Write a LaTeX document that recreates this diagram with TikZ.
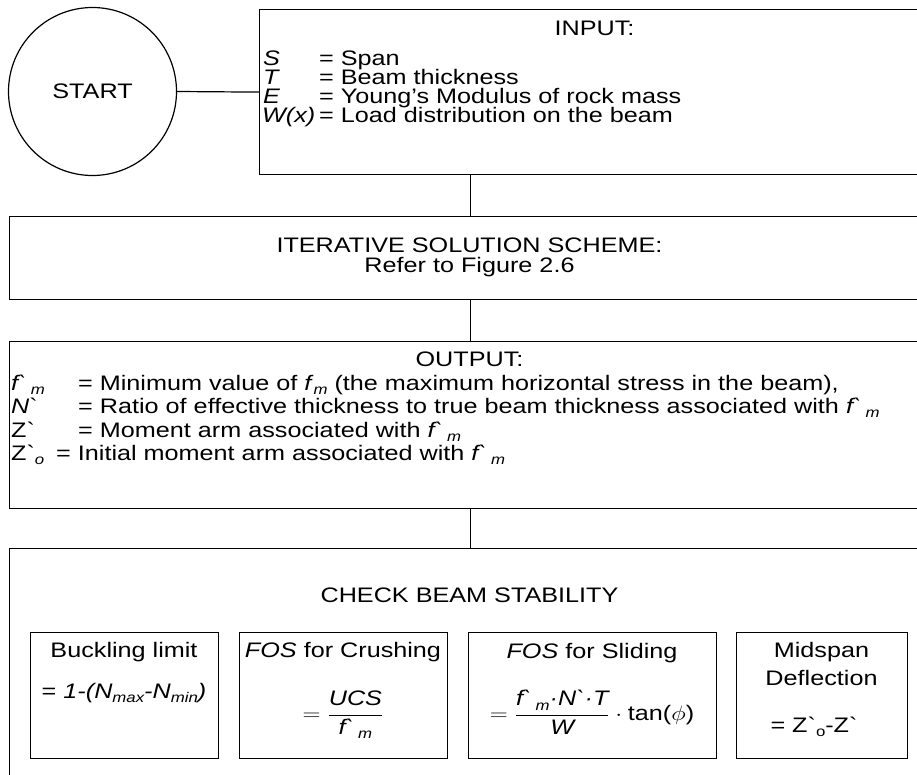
\documentclass[tikz,border=0pt]{standalone}
\usepackage{graphicx}
\usepackage{fontspec}
\setmainfont{Liberation Sans}
\newcommand{\gv}{\textasciigrave}
\newcommand{\fs}{\fontsize{21}{25}\selectfont}
\newcommand{\sx}[1]{\scalebox{1.2}[1]{#1}}
\newcommand{\sbs}[1]{\raisebox{-0.22em}{\fontsize{14}{14}\selectfont #1}}
\begin{document}
\begin{tikzpicture}[x=1pt,y=-1pt,
  box/.style={draw, line width=1.2pt, inner sep=0pt, anchor=north west},
  sbox/.style={draw, line width=1.1pt, inner sep=0pt, anchor=north west},
  tl/.style={inner sep=0pt, anchor=base west, font=\fs},
  tc/.style={inner sep=0pt, anchor=base, font=\fs}]
\useasboundingbox (0,0) rectangle (917,774);
\clip (0,0) rectangle (917,774);

% main boxes
\node[draw, circle, line width=1.2pt, minimum size=168pt, inner sep=0pt, font=\fs] (start) at (92.5,91.5) {\sx{START}};
\node[box, minimum width=671pt, minimum height=165pt] (in) at (259,9) {};
\node[box, minimum width=921pt, minimum height=83pt] (iter) at (9,216) {};
\node[box, minimum width=921pt, minimum height=167pt] (out) at (9,341) {};
\node[box, minimum width=921pt, minimum height=300pt] (check) at (9,548) {};

% connectors
\draw[line width=1.2pt] (start.east) -- (in.west);
\draw[line width=1.2pt] (iter.north |- in.south) -- (iter.north);
\draw[line width=1.2pt] (iter.south) -- (out.north);
\draw[line width=1.2pt] (out.south) -- (check.north);

% input text
\node[tc] (tin) at (594.5,35) {\sx{INPUT:}};
\node[tl] (vs) at (263,65) {\sx{\textit{S}}};
\node[tl] (vt) at (263,84) {\sx{\textit{T}}};
\node[tl] (ve) at (263,103) {\sx{\textit{E}}};
\node[tl] (vw) at (262,122) {\sx{\textit{W(x)}}};
\node[tl] (ds) at (319,65) {\sx{= Span}};
\node[tl] (dt) at (319,84) {\sx{= Beam thickness}};
\node[tl] (de) at (319,103) {\sx{= Young’s Modulus of rock mass}};
\node[tl] (dw) at (319,122) {\sx{= Load distribution on the beam}};

% iterative text
\node[tc] (titer) at (469.5,252) {\sx{ITERATIVE SOLUTION SCHEME:}};
\node[tc] (tref) at (469.5,272) {\sx{Refer to Figure 2.6}};

% output text
\node[tc] (tout) at (469.5,366) {\sx{OUTPUT:}};
\node[tl] (vf) at (11,390) {\sx{\textit{f\gv}\,\sbs{\textit{m}}}};
\node[tl] (vn) at (11,413) {\sx{\textit{N}\gv}};
\node[tl] (vz) at (11,437) {\sx{Z\gv}};
\node[tl] (df) at (78,390) {\sx{= Minimum value of \textit{f}\sbs{\textit{m}} (the maximum horizontal stress in the beam),}};
\node[tl] (dn) at (78,413) {\sx{= Ratio of effective thickness to true beam thickness associated with \textit{f\gv}\,\sbs{\textit{m}}}};
\node[tl] (dz) at (78,437) {\sx{= Moment arm associated with \textit{f\gv}\,\sbs{\textit{m}}}};
\node[tl] (vzo) at (11,460) {\sx{Z\gv\sbs{\textit{o}}}};
\node[tl] (dzo) at (56,460) {\sx{= Initial moment arm associated with \textit{f\gv}\,\sbs{\textit{m}}}};

% check box
\node[tc] (tcheck) at (469.5,602) {\sx{CHECK BEAM STABILITY}};
\node[sbox, minimum width=188pt, minimum height=126pt] (b1) at (30,632) {};
\node[sbox, minimum width=208pt, minimum height=126pt] (b2) at (239,632) {};
\node[sbox, minimum width=248pt, minimum height=126pt] (b3) at (468,632) {};
\node[sbox, minimum width=171pt, minimum height=126pt] (b4) at (736,632) {};

\node[tc] (t1) at (124,657) {\sx{Buckling limit}};
\node[tc] (f1) at (124,698) {\sx{= \textit{1-(N\sbs{max}-N\sbs{min})}}};

\node[tc] (t2) at (343,657) {\sx{\textit{FOS} for Crushing}};
\node[tc] (f2) at (343,720) {\sx{$\displaystyle=\frac{\mbox{\itshape UCS}}{\mbox{\itshape f\gv\,\sbs{m}}}$}};

\node[tc] (t3) at (592,658) {\sx{\textit{FOS} for Sliding}};
\node[tc] (f3) at (592,720) {\sx{$\displaystyle=\frac{\mbox{\itshape f\gv\,\sbs{m}·N\gv·T}}{\mbox{\itshape W}}\cdot\mbox{tan(}\phi\mbox{)}$}};

\node[tc] (t4a) at (821.5,657) {\sx{Midspan}};
\node[tc] (t4b) at (821.5,685) {\sx{Deflection}};
\node[tc] (f4) at (814,732) {\sx{= Z\gv\sbs{o}-Z\gv}};
\end{tikzpicture}
\end{document}
